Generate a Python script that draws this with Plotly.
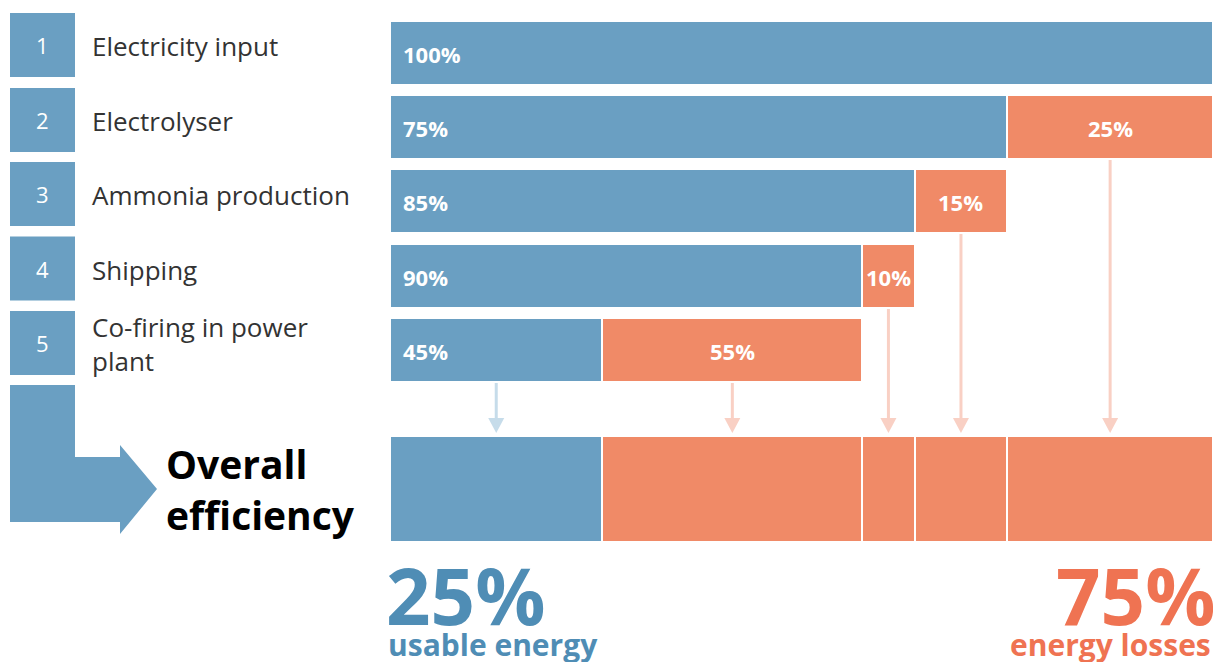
import plotly.graph_objects as go

# ---- data ----
stage_numbers = ["1", "2", "3", "4", "5"]
stage_names = ["Electricity input", "Electrolyser", "Ammonia production",
               "Shipping", "Co-firing in power<br>plant"]
efficiency_pct = [100, 75, 85, 90, 45]   # share kept at each stage
loss_pct = [0, 25, 15, 10, 55]           # share lost at each stage
overall_usable = "25%"
overall_losses = "75%"

BLUE = "#6a9fc2"
ORANGE = "#f08a67"
BLUE_TXT = "#4f8db5"
ORANGE_TXT = "#ef7352"
BLUE_ARROW = "#c6dcea"
ORANGE_ARROW = "#f9d0c4"
FONT = "Open Sans, Noto Sans, sans-serif"
W, H = 1213, 662
X0, XW = 390, 823          # pixel left edge / width of the 100% bar

# remaining energy after each stage (cumulative)
remaining = []
r = 1.0
for e in efficiency_pct:
    r = r * e / 100
    remaining.append(r)
previous = [1.0] + remaining[:-1]

row_y = [52.5, 126.5, 201, 275.5, 350]
bar_h = 64
tot_y, tot_h = 489, 106
box_y = [45, 120, 194, 268.5, 343]


def dx(px):
    return (px - X0) / XW


fig = go.Figure()

# stage bars
fig.add_trace(go.Bar(
    y=row_y, x=remaining, base=[0] * 5, orientation="h", width=bar_h,
    marker=dict(color=BLUE, line=dict(color="white", width=2)),
    hoverinfo="skip", showlegend=False,
))
loss_rows = [i for i in range(5) if loss_pct[i] > 0]
fig.add_trace(go.Bar(
    y=[row_y[i] for i in loss_rows],
    x=[previous[i] - remaining[i] for i in loss_rows],
    base=[remaining[i] for i in loss_rows],
    orientation="h", width=bar_h,
    marker=dict(color=ORANGE, line=dict(color="white", width=2)),
    hoverinfo="skip", showlegend=False,
))

# overall bar: usable + each loss segment
fig.add_trace(go.Bar(
    y=[tot_y], x=[remaining[-1]], base=[0], orientation="h", width=tot_h,
    marker=dict(color=BLUE, line=dict(color="white", width=2)),
    hoverinfo="skip", showlegend=False,
))
fig.add_trace(go.Bar(
    y=[tot_y] * len(loss_rows),
    x=[previous[i] - remaining[i] for i in loss_rows],
    base=[remaining[i] for i in loss_rows],
    orientation="h", width=tot_h,
    marker=dict(color=ORANGE, line=dict(color="white", width=2)),
    hoverinfo="skip", showlegend=False,
))

# arrows from each segment down to the overall bar
tip_y = tot_y - tot_h / 2 - 3
head = 15
hw = 8 / XW
arrows = [(remaining[-1] / 2, row_y[4] + bar_h / 2, BLUE_ARROW)]
for i in loss_rows:
    arrows.append(((remaining[i] + previous[i]) / 2, row_y[i] + bar_h / 2, ORANGE_ARROW))
shapes = []
for xc, y_start, col in arrows:
    shapes.append(dict(type="line", xref="x", yref="y", x0=xc, x1=xc,
                       y0=y_start, y1=tip_y - head + 2,
                       line=dict(color=col, width=3), layer="below"))
    shapes.append(dict(type="path", xref="x", yref="y",
                       path=f"M {xc - hw},{tip_y - head} L {xc + hw},{tip_y - head} L {xc},{tip_y} Z",
                       fillcolor=col, line=dict(width=0)))

# left-hand numbered boxes
for yc in box_y:
    shapes.append(dict(type="rect", xref="x", yref="y", x0=dx(10), x1=dx(75),
                       y0=yc - 32, y1=yc + 32, fillcolor=BLUE, line=dict(width=0)))
# L-shaped arrow to the overall bar
shapes.append(dict(type="path", xref="x", yref="y",
                   path=(f"M {dx(10)},385 L {dx(75)},385 L {dx(75)},457 L {dx(120)},457 "
                         f"L {dx(120)},445 L {dx(157)},489 L {dx(120)},534 L {dx(120)},522 "
                         f"L {dx(10)},522 Z"),
                   fillcolor=BLUE, line=dict(width=0)))

ann = []
lab_font = dict(family=FONT, size=22, color="white")
for i in range(5):
    ann.append(dict(x=0, y=row_y[i] + 1, text=f"<b>{efficiency_pct[i]}%</b>", xanchor="left",
                    xshift=11, showarrow=False, font=lab_font))
    if loss_pct[i] > 0:
        ann.append(dict(x=(remaining[i] + previous[i]) / 2, y=row_y[i] + 1,
                        text=f"<b>{loss_pct[i]}%</b>", showarrow=False, font=lab_font))
    ann.append(dict(x=dx(42.5), y=box_y[i], text=stage_numbers[i], showarrow=False,
                    font=dict(family=FONT, size=22, color="white")))
    ann.append(dict(x=dx(90), y=box_y[i] + 1, text=stage_names[i], xanchor="left",
                    align="left", showarrow=False,
                    font=dict(family=FONT, size=26, color="#333333")))

ann.append(dict(x=dx(164), y=489, text="<b>Overall<br>efficiency</b>", xanchor="left",
                align="left", showarrow=False,
                font=dict(family=FONT, size=39, color="black")))
ann.append(dict(x=dx(384), y=595, text=f"<b>{overall_usable}</b>", xanchor="left",
                showarrow=False, font=dict(family=FONT, size=78, color=BLUE_TXT)))
ann.append(dict(x=dx(386), y=644, text="<b>usable energy</b>", xanchor="left",
                showarrow=False, font=dict(family=FONT, size=30, color=BLUE_TXT)))
ann.append(dict(x=dx(W), y=595, text=f"<b>{overall_losses}</b>", xanchor="right", xshift=4,
                showarrow=False, font=dict(family=FONT, size=78, color=ORANGE_TXT)))
ann.append(dict(x=dx(W), y=644, text="<b>energy losses</b>", xanchor="right",
                showarrow=False, font=dict(family=FONT, size=30, color=ORANGE_TXT)))

fig.update_layout(
    width=W, height=H, margin=dict(l=0, r=0, t=0, b=0),
    paper_bgcolor="white", plot_bgcolor="white",
    barmode="overlay", bargap=0,
    xaxis=dict(range=[dx(0), dx(W)], visible=False, fixedrange=True),
    yaxis=dict(range=[H, 0], visible=False, fixedrange=True),
    shapes=shapes, annotations=ann,
)

fig.write_html("out.html", config={"displayModeBar": False},
               post_script="document.body.style.margin='0';")
